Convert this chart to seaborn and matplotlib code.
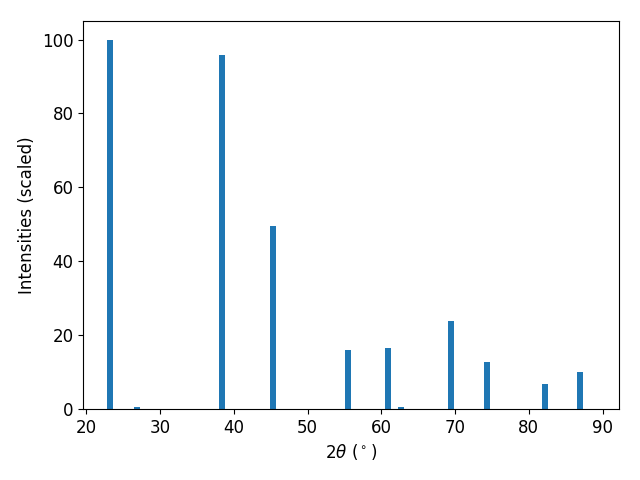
import numpy as np
import pandas as pd
import seaborn as sns
import matplotlib
matplotlib.use("Agg")
import matplotlib.pyplot as plt

# peak positions (2theta, degrees) and scaled intensities
two_theta = [23.2, 26.9, 38.4, 45.3, 55.5, 60.9, 62.7, 69.5, 74.3, 82.2, 86.9]
intensity = [100.0, 0.4, 95.8, 49.4, 16.0, 16.6, 0.4, 23.9, 12.8, 6.8, 10.0]

bar_width = 0.8  # degrees

df = pd.DataFrame({"two_theta": two_theta, "intensity": intensity})

plt.rcParams["font.size"] = 12
fig, ax = plt.subplots(figsize=(6.4, 4.8), dpi=100)

min_gap = np.min(np.diff(np.sort(df["two_theta"].values)))
sns.barplot(data=df, x="two_theta", y="intensity", native_scale=True,
            width=bar_width / min_gap, color="#1f77b4", saturation=1,
            linewidth=0, errorbar=None, ax=ax)

ax.set_xlim(19.6, 92.2)
ax.set_xticks([20, 30, 40, 50, 60, 70, 80, 90])
ax.set_xlabel(r"$2\theta$ ($^\circ$)")
ax.set_ylabel("Intensities (scaled)")

fig.subplots_adjust(left=0.130, right=0.967, top=0.956, bottom=0.148)
plt.savefig("out.png", dpi=100)
